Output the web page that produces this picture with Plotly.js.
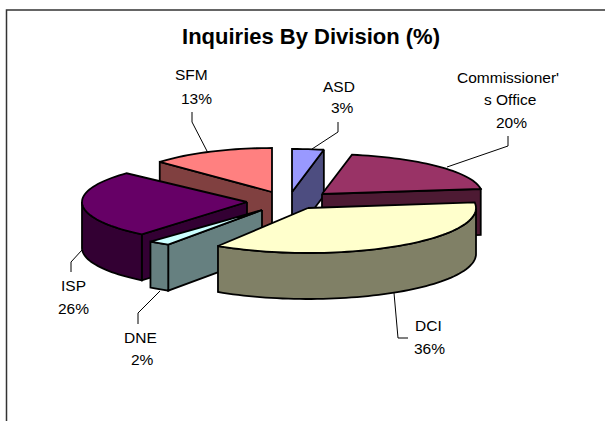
<!DOCTYPE html>
<html>
<head>
<meta charset="utf-8">
<script src="https://cdn.plot.ly/plotly-3.0.1.min.js"></script>
<style>html,body{margin:0;padding:0;background:#fff}#c{width:605px;height:421px}</style>
</head>
<body>
<div id="c"></div>
<script>
// Data
const divisions = ["ASD", "Commissioner's Office", "DCI", "DNE", "ISP", "SFM"];
const shares = [3, 20, 36, 2, 26, 13];
const labelLines = [["ASD"], ["Commissioner'", "s Office"], ["DCI"], ["DNE"], ["ISP"], ["SFM"]];

// Styles
const topColors = ["#9999FF", "#993366", "#FFFFCC", "#CCFFFF", "#660066", "#FF8080"];
const wallColors = ["#4D4D80", "#4D1A33", "#808066", "#668080", "#330033", "#804040"];

// Layout of the exploded pie
const apexX = [292, 322, 308, 262, 247, 272];
const apexY = [192, 194, 208, 210, 202, 192];
const radiusX = [170, 160, 168, 175, 165, 154];
const radiusY = [43, 40, 45, 41, 42, 44];
const depth = 46;
const drawOrder = [5, 0, 1, 4, 3, 2];

// Label placement: centre x of each line, y of each line
const labelX = [[339, 342], [508, 510, 511], [428, 429], [140, 142], [73, 73], [191, 196]];
const labelY = [[86, 107], [77, 99, 122], [325, 348], [337, 359], [285, 308], [74, 98]];
const leaderX = [[338, 338, 312], [508, 508, 447], [408, 398, 394], [138, 138, 160], [71, 71, 82], [192, 192, 208]];
const leaderY = [[122, 132, 149], [136, 146, 167], [338, 338, 293], [324, 313, 291], [272, 262, 250], [112, 122, 153]];

const rad = d => d * Math.PI / 180;
const total = shares.reduce((a, b) => a + b, 0);
const starts = [];
let acc = 0;
shares.forEach(v => { starts.push(acc / total * 360); acc += v; });
const ends = shares.map((v, i) => starts[i] + v / total * 360);

function rim(i, deg) {
  return [apexX[i] + radiusX[i] * Math.sin(rad(deg)), apexY[i] - radiusY[i] * Math.cos(rad(deg))];
}
function arc(i, a, b) {
  const pts = [];
  const n = Math.max(2, Math.ceil((b - a) / 2));
  for (let k = 0; k <= n; k++) pts.push(rim(i, a + (b - a) * k / n));
  return pts;
}
function poly(pts, fill) {
  const x = pts.map(p => p[0]), y = pts.map(p => p[1]);
  x.push(x[0]); y.push(y[0]);
  return {type: 'scatter', mode: 'lines', x, y, fill: 'toself', fillcolor: fill,
    line: {color: '#000', width: 1.8, simplify: false}, hoverinfo: 'skip', showlegend: false};
}
const drop = p => [p[0], p[1] + depth];

const traces = [];
drawOrder.forEach(i => {
  const a0 = starts[i], a1 = ends[i], apex = [apexX[i], apexY[i]];
  if (a0 % 360 > 180) {
    const c = rim(i, a0);
    traces.push(poly([apex, c, drop(c), drop(apex)], wallColors[i]));
  }
  if (a1 < 180) {
    const c = rim(i, a1);
    traces.push(poly([apex, c, drop(c), drop(apex)], wallColors[i]));
  }
  const lo = Math.max(a0, 90), hi = Math.min(a1, 270);
  if (hi > lo) {
    const top = arc(i, lo, hi);
    traces.push(poly(top.concat(top.slice().reverse().map(drop)), wallColors[i]));
  }
  traces.push(poly([apex].concat(arc(i, a0, a1)), topColors[i]));
});

leaderX.forEach((xs, i) => {
  traces.push({type: 'scatter', mode: 'lines', x: xs, y: leaderY[i],
    line: {color: '#000', width: 1}, hoverinfo: 'skip', showlegend: false});
});

const annotations = [];
labelLines.forEach((lines, i) => {
  lines.concat([shares[i] + '%']).forEach((t, k) => {
    annotations.push({x: labelX[i][k], y: labelY[i][k], xref: 'x', yref: 'y', text: t, showarrow: false,
      xanchor: 'center', yanchor: 'middle', font: {family: 'Liberation Sans, Arial, sans-serif', size: 15.5, color: '#000'}});
  });
});

const layout = {
  width: 605, height: 421, margin: {l: 0, r: 0, t: 0, b: 0},
  paper_bgcolor: '#fff', plot_bgcolor: '#fff', showlegend: false,
  title: {text: '<b>Inquiries By Division (%)</b>', x: 311 / 605, xanchor: 'center', xref: 'paper',
    y: 1 - 36 / 421, yref: 'paper', yanchor: 'middle',
    font: {family: 'Liberation Sans, Arial, sans-serif', size: 22, color: '#000'}},
  xaxis: {range: [0, 605], visible: false, fixedrange: true},
  yaxis: {range: [421, 0], visible: false, fixedrange: true},
  shapes: [{type: 'path', xref: 'x', yref: 'y', path: 'M 605 10 L 6.5 10 L 6.5 421', line: {color: '#333', width: 1.5}}],
  annotations
};
Plotly.newPlot('c', traces, layout, {displayModeBar: false, staticPlot: true});
</script>
</body>
</html>
